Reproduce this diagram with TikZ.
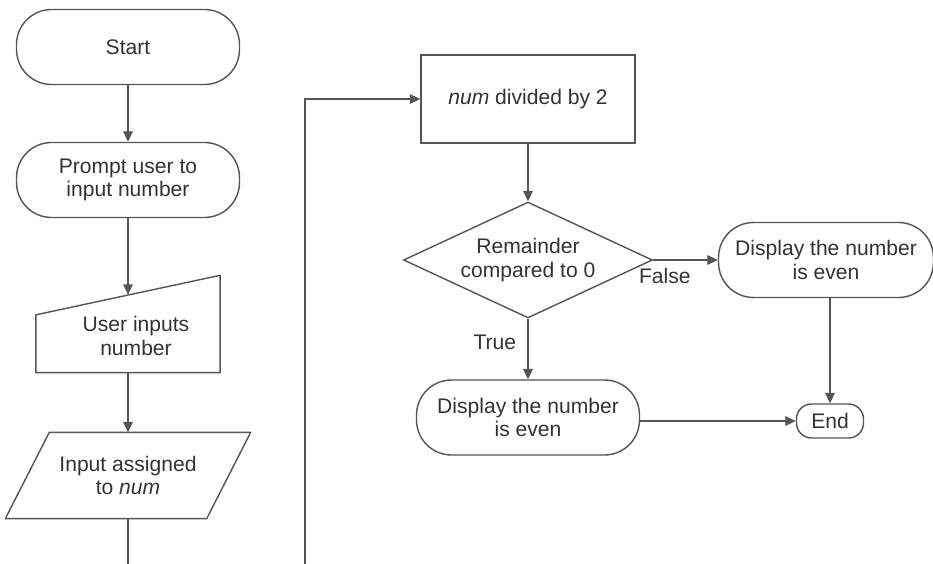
\documentclass[tikz,border=0pt]{standalone}
\usepackage{fontspec}
\setmainfont{Liberation Sans}
\usepackage{tikz}
\usetikzlibrary{shapes,arrows,positioning,calc,arrows.meta}

\definecolor{ink}{HTML}{333333}
\definecolor{edge}{HTML}{555555}

\tikzset{
  base/.style={draw=edge, line width=0.8pt, text=ink, align=center, inner sep=0pt,
    font=\fontsize{12}{13.5}\selectfont},
  term/.style={base, rounded corners=0.7cm, minimum width=4.46cm, minimum height=1.5cm},
  proc/.style={base, rectangle, minimum width=4.28cm, minimum height=1.76cm},
  decision/.style={base, diamond, aspect=2.15, minimum width=4.98cm, minimum height=2.32cm},
  holder/.style={base, draw=none},
  lbl/.style={text=ink, align=center, font=\fontsize{12}{13.5}\selectfont},
  shp/.style={draw=edge, line width=0.8pt, line join=round},
  wire/.style={draw=edge, line width=0.8pt},
  arr/.style={wire, -{Triangle[length=6pt,width=5.5pt]}}
}

\begin{document}
\begin{tikzpicture}[x=0.02cm, y=-0.02cm]
    \path[fill=white, use as bounding box] (0,0) rectangle (933,564);

    % Input column
    \node[term] (start) at (128,47) {Start};
    \node[term] (prompt) at (128,180) {Prompt user to\\input number};
    \node[holder, minimum width=3.66cm, minimum height=1.92cm] (usr) at (128,324) {};
    \node[lbl] (usrtxt) at (136,336) {User inputs\\number};
    \draw[shp] (usr.south west) -- (usr.south east) -- (usr.north east)
        -- ($(usr.south west)!0.594!(usr.north west)$) -- cycle;
    \node[holder, minimum width=4cm, minimum height=1.7cm] (para) at (128,475.5) {Input assigned\\to \textit{num}};
    \draw[shp] ($(para.south west)+(-22,0)$) -- ($(para.south east)+(-22,0)$)
        -- ($(para.north east)+(22,0)$) -- ($(para.north west)+(22,0)$) -- cycle;

    % Test column
    \node[proc] (div) at (528,99) {\textit{num} divided by 2};
    \node[decision] (rem) at (528,260) {Remainder\\compared to 0};
    \node[term] (evenT) at (528,417.5) {Display the number\\is even};
    \node[term, minimum width=4.3cm] (evenF) at (826,260) {Display the number\\is even};
    \node[term, rounded corners=0.3cm, minimum width=1.34cm, minimum height=0.68cm] (stop) at (830,421) {End};

    % Loop out of the page
    \coordinate (loopA) at (128,564);
    \coordinate (loopB) at (305,564);

    % Connectors
    \draw[arr] (start) -- (prompt);
    \draw[arr] (prompt) -- ($(usr.north)+(0,19.5)$);
    \draw[arr] (usr.south) -- (para.north);
    \draw[wire] (para.south) -- (loopA);
    \draw[arr] (loopB) |- (div.west);
    \draw[arr] (div) -- (rem);
    \draw[arr] (rem) -- node[lbl, pos=0.18, below=1pt] {False} (evenF);
    \draw[arr] (rem) -- node[lbl, pos=0.39, left=3pt] {True} (evenT);
    \draw[arr] (evenT.east |- stop) -- (stop);
    \draw[arr] (evenF.south -| stop) -- (stop);

\end{tikzpicture}
\end{document}
